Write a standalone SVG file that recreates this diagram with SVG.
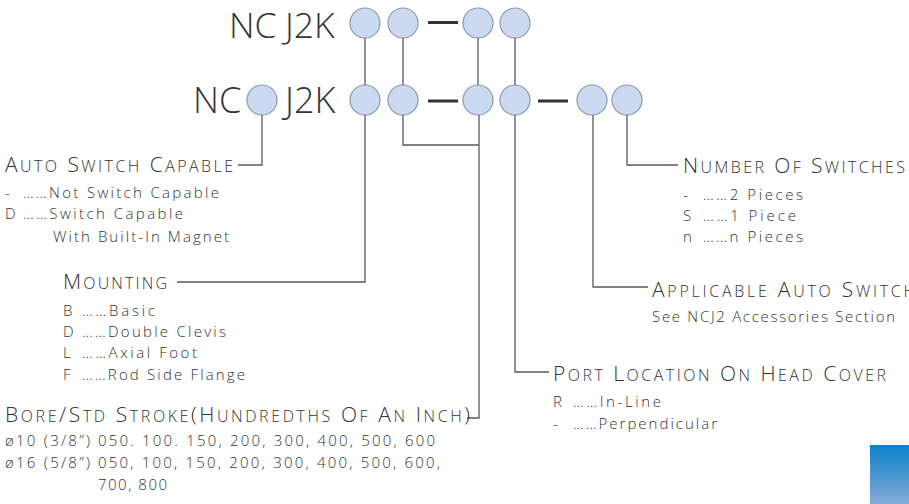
<svg xmlns="http://www.w3.org/2000/svg" width="909" height="504" viewBox="0 0 909 504">
<style>
.t{font-family:"Open Sans","Noto Sans",sans-serif;fill:#333;font-weight:300}
.title{font-size:36px}
.title1{font-size:35.5px}
.h{font-size:21px}
.s{font-size:16px}
.i{font-size:15px}
.c{fill:#ccdaf1;stroke:#8e98a8;stroke-width:1.2}
.ln{fill:none;stroke:#5a5a5a;stroke-width:1.3}
.d{stroke:#333;stroke-width:3}
</style>
<defs>
<linearGradient id="bg" x1="0" y1="0" x2="0" y2="1">
<stop offset="0" stop-color="#0a84c9"/>
<stop offset="1" stop-color="#86a9d9"/>
</linearGradient>
</defs>
<g id="title1"><text class="t title1" x="229" y="38">NC</text><text class="t title1" x="285" y="38">J2K</text></g>
<g id="title2"><text class="t title" x="193" y="113">NC</text><text class="t title" x="285" y="113">J2K</text></g>
<g id="row1">
<circle class="c" cx="365" cy="23" r="15"/>
<circle class="c" cx="403" cy="23" r="15"/>
<line class="d" x1="428" y1="22.5" x2="458" y2="22.5"/>
<circle class="c" cx="478" cy="23" r="15"/>
<circle class="c" cx="515" cy="23" r="15"/>
</g>
<g id="row2">
<circle class="c" cx="262" cy="100" r="15"/>
<circle class="c" cx="365" cy="100" r="15"/>
<circle class="c" cx="403" cy="100" r="15"/>
<line class="d" x1="428" y1="101" x2="458" y2="101"/>
<circle class="c" cx="478" cy="100" r="15"/>
<circle class="c" cx="515" cy="100" r="15"/>
<line class="d" x1="538" y1="101" x2="568" y2="101"/>
<circle class="c" cx="592" cy="100" r="15"/>
<circle class="c" cx="627" cy="100" r="15"/>
</g>
<g id="connectors">
<path class="ln" d="M365,38V85M403,38V85M478,38V85M515,38V85"/>
<path class="ln" d="M262,115V165H238"/>
<path class="ln" d="M365,115V282H177"/>
<path class="ln" d="M403,115V145H479"/>
<path class="ln" d="M479,115V418H467"/>
<path class="ln" d="M515,115V372H549"/>
<path class="ln" d="M593,115V287H648"/>
<path class="ln" d="M627,115V165H678"/>
</g>
<g id="auto-switch">
<text class="t h" x="5" y="172" textLength="228" lengthAdjust="spacing">A<tspan class="s">UTO</tspan> S<tspan class="s">WITCH</tspan> C<tspan class="s">APABLE</tspan></text>
<text class="t i" x="5" y="198">-</text><text class="t i" x="23" y="198" textLength="196" lengthAdjust="spacing">……Not Switch Capable</text>
<text class="t i" x="5" y="219">D</text><text class="t i" x="23" y="219" textLength="160" lengthAdjust="spacing">……Switch Capable</text>
<text class="t i" x="53" y="242" textLength="176" lengthAdjust="spacing">With Built-In Magnet</text>
</g>
<g id="mounting">
<text class="t h" x="63" y="289" textLength="104" lengthAdjust="spacing">M<tspan class="s">OUNTING</tspan></text>
<text class="t i" x="63" y="316">B</text><text class="t i" x="82" y="316" textLength="73" lengthAdjust="spacing">……Basic</text>
<text class="t i" x="63" y="337">D</text><text class="t i" x="82" y="337" textLength="144" lengthAdjust="spacing">……Double Clevis</text>
<text class="t i" x="63" y="358">L</text><text class="t i" x="82" y="358" textLength="115" lengthAdjust="spacing">……Axial Foot</text>
<text class="t i" x="63" y="380">F</text><text class="t i" x="82" y="380" textLength="163" lengthAdjust="spacing">……Rod Side Flange</text>
</g>
<g id="bore">
<text class="t h" x="5" y="422" textLength="465" lengthAdjust="spacing">B<tspan class="s">ORE</tspan>/S<tspan class="s">TD</tspan> S<tspan class="s">TROKE</tspan>(H<tspan class="s">UNDREDTHS</tspan> O<tspan class="s">F</tspan> A<tspan class="s">N</tspan> I<tspan class="s">NCH</tspan>)</text>
<text class="t i" x="5" y="446" textLength="85" lengthAdjust="spacing">ø10 (3/8”)</text><text class="t i" x="98" y="446" textLength="337" lengthAdjust="spacing">050. 100. 150, 200, 300, 400, 500, 600</text>
<text class="t i" x="5" y="468" textLength="85" lengthAdjust="spacing">ø16 (5/8”)</text><text class="t i" x="98" y="468" textLength="342" lengthAdjust="spacing">050, 100, 150, 200, 300, 400, 500, 600,</text>
<text class="t i" x="98" y="490" textLength="69" lengthAdjust="spacing">700, 800</text>
</g>
<g id="port">
<text class="t h" x="553" y="381" textLength="333" lengthAdjust="spacing">P<tspan class="s">ORT</tspan> L<tspan class="s">OCATION</tspan> O<tspan class="s">N</tspan> H<tspan class="s">EAD</tspan> C<tspan class="s">OVER</tspan></text>
<text class="t i" x="553" y="407">R</text><text class="t i" x="573" y="407" textLength="88" lengthAdjust="spacing">……In-Line</text>
<text class="t i" x="553" y="429">-</text><text class="t i" x="573" y="429" textLength="144" lengthAdjust="spacing">……Perpendicular</text>
</g>
<g id="applicable">
<text class="t h" x="652" y="297" textLength="263" lengthAdjust="spacing">A<tspan class="s">PPLICABLE</tspan> A<tspan class="s">UTO</tspan> S<tspan class="s">WITCH</tspan></text>
<text class="t i" x="652" y="322" textLength="243" lengthAdjust="spacing">See NCJ2 Accessories Section</text>
</g>
<g id="switches">
<text class="t h" x="683" y="173" textLength="222" lengthAdjust="spacing">N<tspan class="s">UMBER</tspan> O<tspan class="s">F</tspan> S<tspan class="s">WITCHES</tspan></text>
<text class="t i" x="683" y="200">-</text><text class="t i" x="703" y="200" textLength="100" lengthAdjust="spacing">……2 Pieces</text>
<text class="t i" x="683" y="221">S</text><text class="t i" x="703" y="221" textLength="93" lengthAdjust="spacing">……1 Piece</text>
<text class="t i" x="683" y="242">n</text><text class="t i" x="703" y="242" textLength="100" lengthAdjust="spacing">……n Pieces</text>
</g>
<rect x="870" y="445" width="39" height="59" fill="url(#bg)"/>
</svg>
